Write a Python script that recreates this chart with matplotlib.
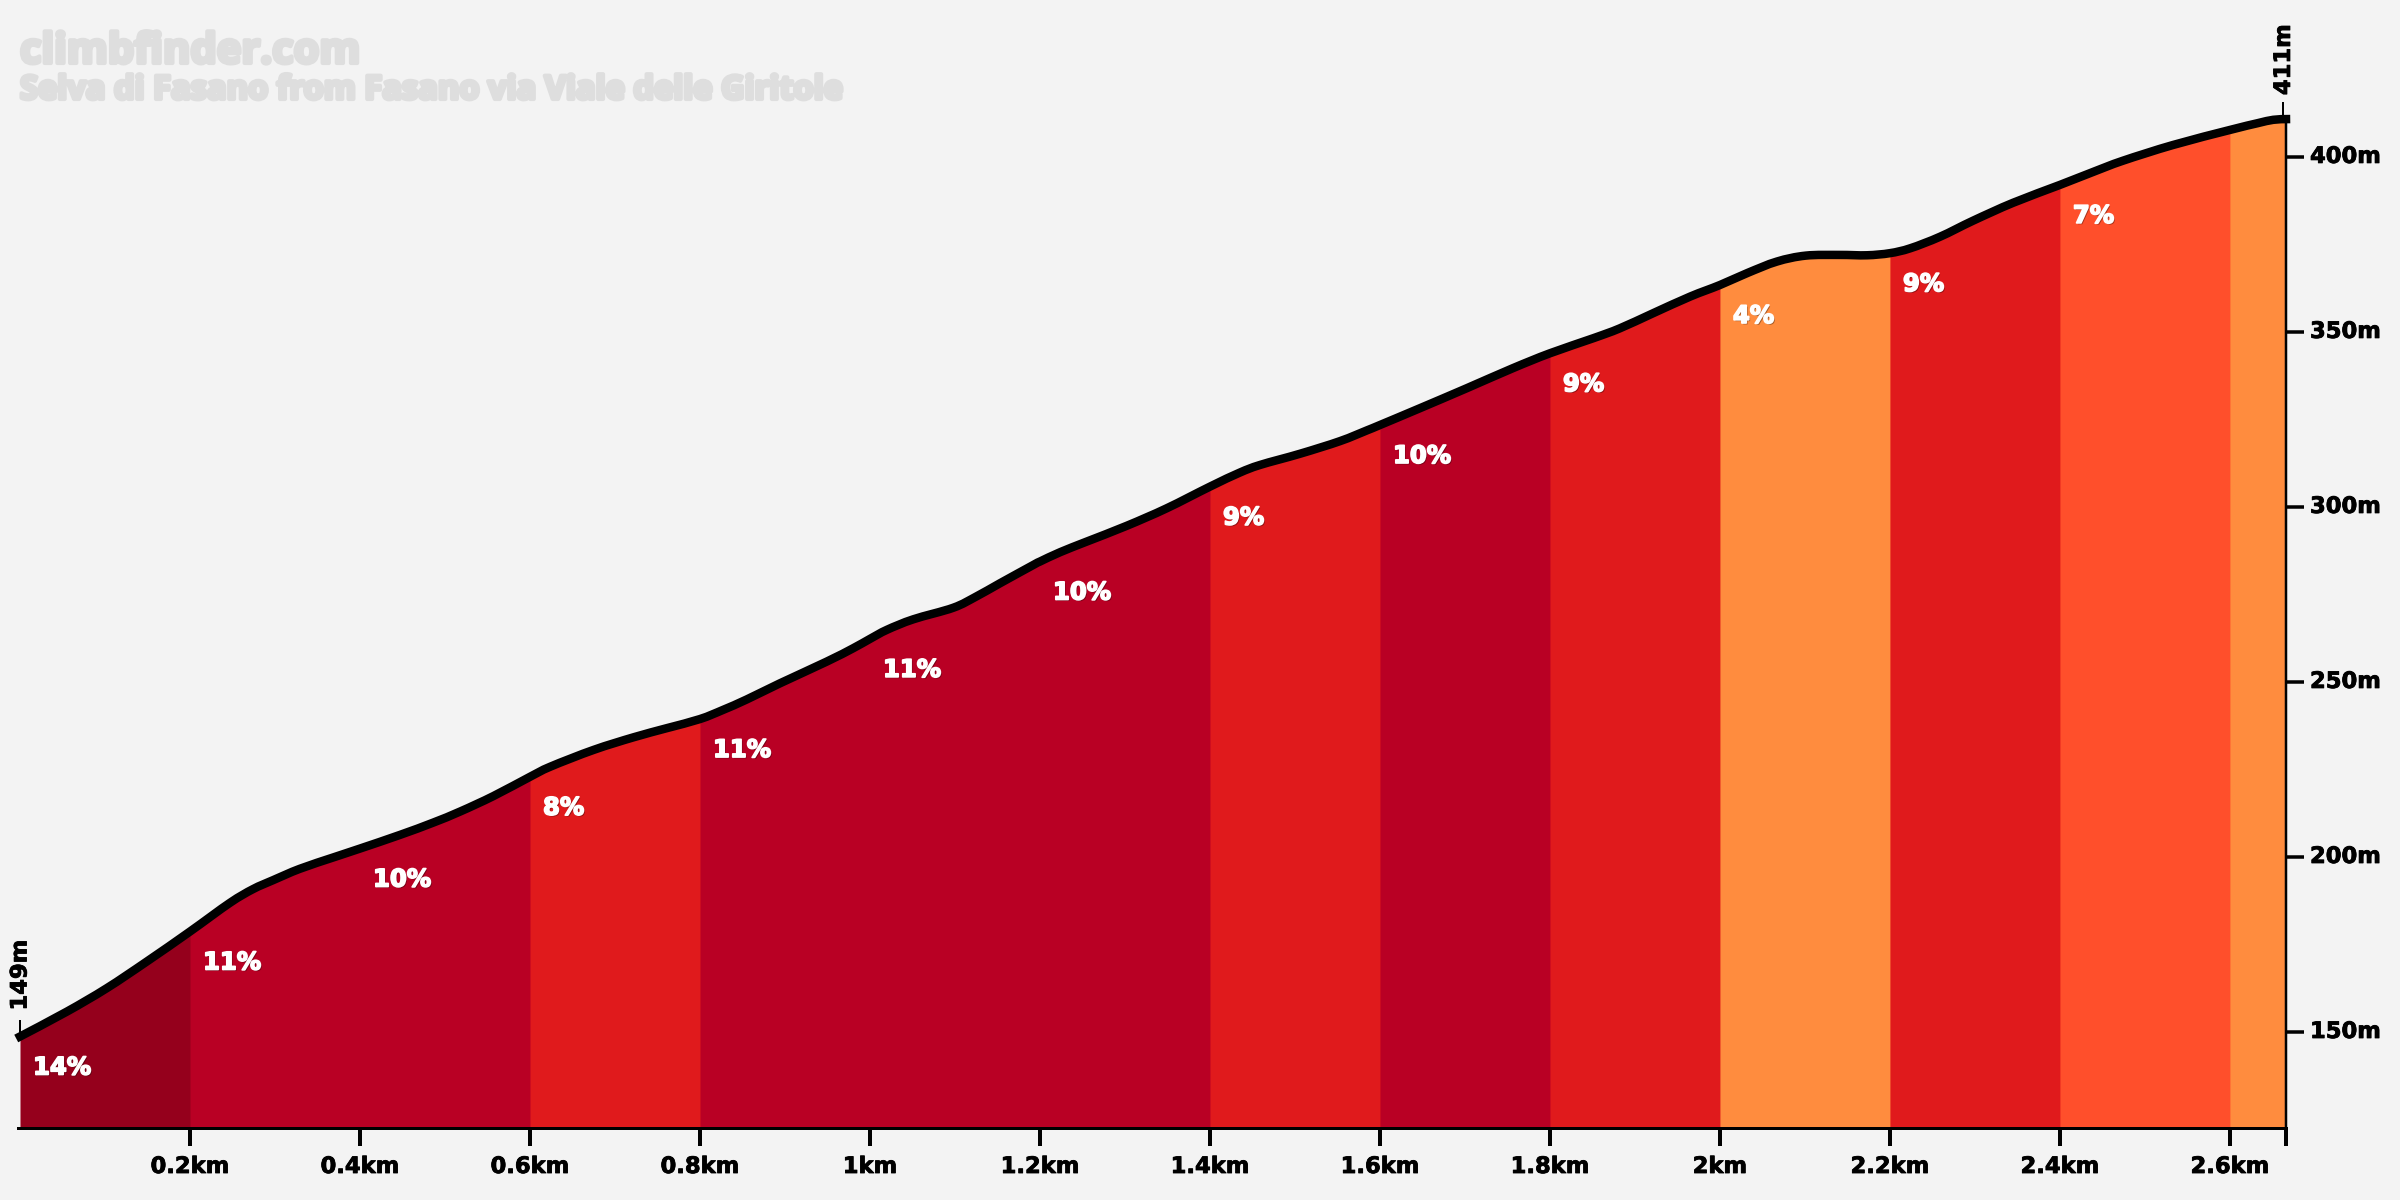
"""Climb profile chart: Selva di Fasano from Fasano via Viale delle Giritole."""

import matplotlib
matplotlib.use("Agg")
import matplotlib.patheffects as pe
import matplotlib.pyplot as plt
from matplotlib.patches import PathPatch
from matplotlib.path import Path
from matplotlib.transforms import ScaledTranslation
import numpy as np

# --- Data ---
distance_km = [
    0, 0.055, 0.102, 0.149, 0.2, 0.247, 0.274, 0.298, 0.329, 0.369, 0.4, 0.447, 0.486, 0.518, 0.557, 0.6,
    0.624, 0.675, 0.722, 0.761, 0.8, 0.827, 0.855, 0.894, 0.949, 0.98, 1.0, 1.02, 1.051, 1.098, 1.125, 1.153,
    1.192, 1.2, 1.224, 1.255, 1.302, 1.349, 1.4, 1.435, 1.459, 1.506, 1.553, 1.585, 1.6, 1.647, 1.702, 1.756,
    1.8, 1.851, 1.882, 1.921, 1.965, 2.0, 2.032, 2.067, 2.101, 2.141, 2.173, 2.2, 2.224, 2.259, 2.298, 2.345,
    2.4, 2.439, 2.474, 2.533, 2.6, 2.632, 2.651, 2.666,
]
elevation_m = [
    148.7, 155.8, 162.5, 170.1, 178.7, 186.9, 190.8, 193.4, 196.6, 199.9, 202.4, 206.3, 209.8, 213.0, 217.4, 222.9,
    225.8, 230.6, 234.2, 236.8, 239.4, 242.0, 245.0, 249.6, 255.8, 259.6, 262.3, 264.9, 267.9, 271.2, 274.4, 278.2,
    283.4, 284.4, 287.1, 290.1, 294.6, 299.6, 305.8, 309.8, 312.0, 315.2, 318.8, 321.9, 323.4, 328.2, 333.9, 339.6,
    343.9, 348.2, 351.0, 355.3, 360.1, 363.4, 366.8, 370.1, 371.8, 372.0, 371.9, 372.5, 373.9, 377.2, 381.8, 386.9,
    392.0, 395.7, 398.9, 403.4, 407.7, 409.6, 410.6, 410.8,
]
segment_edges = [0, 0.2, 0.4, 0.6, 0.8, 1.0, 1.2, 1.4, 1.6, 1.8, 2.0, 2.2, 2.4, 2.6, 2.666]
segment_colors = [
    "#95001c", "#b90024", "#b90024", "#e01a1c", "#b90024", "#b90024", "#b90024",
    "#e01a1c", "#b90024", "#e01a1c", "#ff8c3e", "#e01a1c", "#ff4f2b", "#ff8c3e",
]
segment_labels = ["14%", "11%", "10%", "8%", "11%", "11%", "10%", "9%", "10%", "9%", "4%", "9%", "7%", ""]

x_ticks = [0.2, 0.4, 0.6, 0.8, 1.0, 1.2, 1.4, 1.6, 1.8, 2.0, 2.2, 2.4, 2.6, 2.666]
x_tick_labels = ["0.2km", "0.4km", "0.6km", "0.8km", "1km", "1.2km", "1.4km", "1.6km", "1.8km", "2km",
                 "2.2km", "2.4km", "2.6km", ""]
y_ticks = [150, 200, 250, 300, 350, 400]
y_tick_labels = ["150m", "200m", "250m", "300m", "350m", "400m"]
start_label = "149m"
end_label = "411m"
site_name = "climbfinder.com"
climb_name = "Selva di Fasano from Fasano via Viale delle Giritole"

BG = "#f3f3f3"
WATERMARK = "#dedede"
W, H = 2400, 1200
LEFT, RIGHT, TOP, BOTTOM = 20, 2286, 40, 1128  # axes box in pixels
px = 0.72  # one pixel in points at dpi 100


def smooth_path(xs, ys):
    """Catmull-Rom through the read points, as bezier segments."""
    pts = np.column_stack([xs, ys])
    verts = [pts[0]]
    for i in range(len(pts) - 1):
        before = pts[max(i - 1, 0)]
        after = pts[min(i + 2, len(pts) - 1)]
        verts.append(pts[i] + (pts[i + 1] - before) / 6)
        verts.append(pts[i + 1] - (after - pts[i]) / 6)
        verts.append(pts[i + 1])
    codes = [Path.MOVETO] + [Path.CURVE4] * (len(verts) - 1)
    return Path(verts, codes)


plt.rcParams["font.family"] = ["DejaVu Sans"]

fig = plt.figure(figsize=(W / 100, H / 100), dpi=100, facecolor=BG)
ax = fig.add_axes([LEFT / W, 1 - BOTTOM / H, (RIGHT - LEFT) / W, (BOTTOM - TOP) / H])
ax.patch.set_alpha(0)
ax.set_xlim(0, 2.6659)
ax.set_ylim(122.57, 433.4)

dist = np.array(distance_km)
elev = np.array(elevation_m)

# --- Coloured gradient segments ---
# each fill runs to the far end and the next one paints over it, so no seams show
for i, color in enumerate(segment_colors):
    mask = dist >= segment_edges[i]
    ax.fill_between(dist[mask], elev[mask], 122.57, color=color, linewidth=0)

ax.add_patch(PathPatch(smooth_path(dist, elev), facecolor="none", edgecolor="black", linewidth=8.5 * px,
                       capstyle="projecting", joinstyle="round", clip_on=False, zorder=4))

# --- Gradient labels ---
shadow = [pe.withSimplePatchShadow(offset=(1, -1), shadow_rgbFace="black", alpha=0.35),
          pe.Stroke(linewidth=1.2, foreground="white"), pe.Normal()]
for i, label in enumerate(segment_labels):
    if not label:
        continue
    start = segment_edges[i]
    ax.annotate(label, xy=(start, elev[dist == start][0]), xytext=(13, -31), textcoords="offset pixels",
                color="white", fontsize=17.5, fontweight="bold", ha="left", va="center",
                path_effects=shadow, zorder=5)

# --- Axes ---
for side in ["left", "top"]:
    ax.spines[side].set_visible(False)
ax.spines["bottom"].set_linewidth(3 * px)
ax.spines["right"].set_linewidth(2.5 * px)
ax.spines["right"].set_bounds(122.57, 410.8)
ax.spines["bottom"].set_bounds(-0.0025, 2.6659)

heavy = [pe.Stroke(linewidth=0.6, foreground="black"), pe.Normal()]
ax.set_xticks(x_ticks, x_tick_labels)
ax.tick_params(axis="x", length=18 * px, width=4 * px, pad=9 * px, labelsize=16.3)
ax.yaxis.tick_right()
ax.set_yticks(y_ticks, y_tick_labels)
ax.tick_params(axis="y", length=18 * px, width=3.5 * px, pad=6 * px, labelsize=16.3)
for lbl in ax.get_xticklabels():
    lbl.set_fontweight("bold")
    lbl.set_path_effects(heavy)
up_3px = ScaledTranslation(0, 3 / 100, fig.dpi_scale_trans)
for lbl in ax.get_yticklabels():
    lbl.set_fontweight("bold")
    lbl.set_path_effects(heavy)
    lbl.set_transform(lbl.get_transform() + up_3px)

# --- Start and finish elevations ---
ax.plot([0, 0], [elevation_m[0], elevation_m[0] + 4.5], color="black", linewidth=2 * px, clip_on=False, zorder=3)
ax.plot([2.663, 2.663], [elevation_m[-1], elevation_m[-1] + 4.5], color="black", linewidth=2 * px,
        clip_on=False, zorder=3)
ax.annotate(start_label, xy=(0, elevation_m[0]), xytext=(0, 26), textcoords="offset pixels", rotation=90,
            ha="center", va="bottom", fontsize=16.3, fontweight="bold", annotation_clip=False, path_effects=heavy)
ax.annotate(end_label, xy=(2.663, elevation_m[-1]), xytext=(0, 24), textcoords="offset pixels", rotation=90,
            ha="center", va="bottom", fontsize=16.3, fontweight="bold", annotation_clip=False, path_effects=heavy)

# --- Watermark ---
fat = [pe.Stroke(linewidth=3, foreground=WATERMARK), pe.Normal()]
fig.text(20 / W, 1 - 63 / H, site_name, family="Open Sans", color=WATERMARK, fontsize=30, fontweight="bold",
         ha="left", va="baseline", path_effects=fat)
fig.text(20 / W, 1 - 99 / H, climb_name, family="Open Sans", color=WATERMARK, fontsize=23.5, fontweight="bold",
         ha="left", va="baseline", path_effects=fat)

fig.savefig("out.png", dpi=100, facecolor=BG)
plt.close(fig)
